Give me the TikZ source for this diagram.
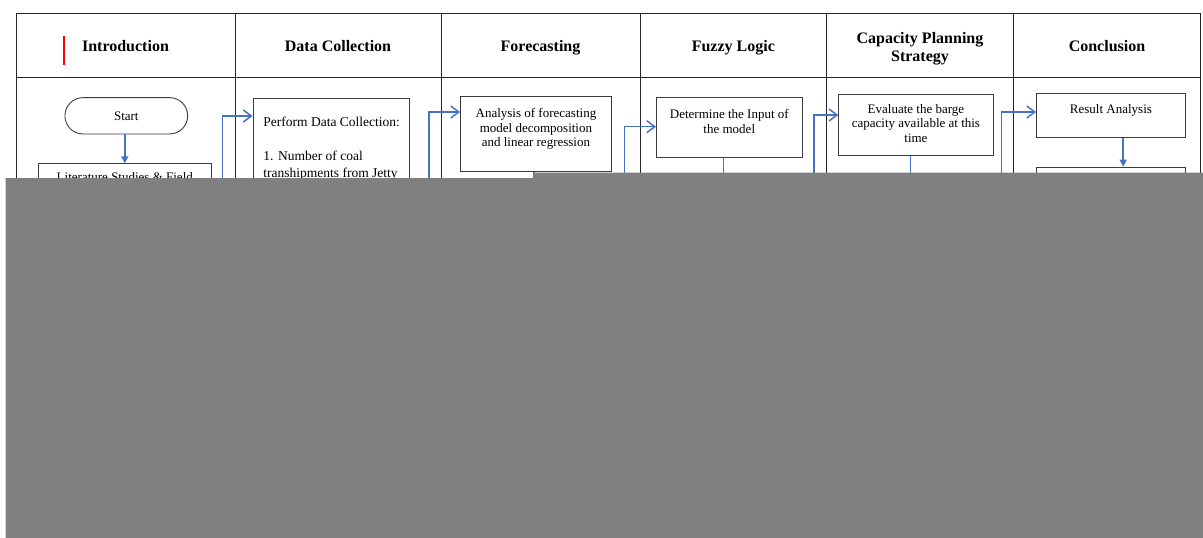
\documentclass[tikz,border=0pt]{standalone}
\usepackage{fontspec}
\setmainfont{Liberation Serif}
\usetikzlibrary{arrows.meta}

% fixed-height cell text, first line placed from the top
\newcommand{\celltext}[4]{\parbox[b][#1][t]{#2}{\centering\vspace*{#3}\strut#4}}
\newcommand{\celllist}[4]{\parbox[b][#1][t]{#2}{\raggedright\leftskip=10.5pt\vspace*{#3}\strut#4}}

\begin{document}
\begin{tikzpicture}[x=1pt,y=-1pt,
    every node/.style={font=\fontsize{13}{14.5}\selectfont},
    grid/.style={draw=black!85,line width=0.8pt},
    head/.style={font=\fontsize{16}{18.5}\selectfont\bfseries,align=center},
    box/.style={draw=edge,line width=0.9pt,fill=white,inner sep=0pt},
    link/.style={draw=flowblue,line width=1.5pt,-{Straight Barb[length=8pt,width=12pt]}},
    drop/.style={draw=flowblue,line width=1.5pt,-{Triangle[length=7pt,width=7pt]}},
    feed/.style={draw=flowblue,line width=1.5pt}]
            % Define colors
            \definecolor{flowblue}{RGB}{68,114,196}
            \definecolor{edge}{RGB}{60,60,60}
            \definecolor{covergray}{RGB}{128,128,128}

            \useasboundingbox (0,0) rectangle (1203,538);

            % Draw the table frame
            \draw[grid] (16,13) rectangle (1200.7,530);
            \draw[grid] (16,77) -- (1200.7,77);
            \foreach \x in {235,441,640,826.7,1013.3}
                \draw[grid] (\x,13) -- (\x,530);

            % Column headers
            \node[head,anchor=base] (hIntro) at (125.5,51.7) {Introduction};
            \node[head,anchor=base] (hData) at (338,51.7) {Data Collection};
            \node[head,anchor=base] (hForecast) at (540.5,51.7) {Forecasting};
            \node[head,anchor=base] (hFuzzy) at (733.3,51.7) {Fuzzy Logic};
            \node[head] (hCapacity) at (920,48.5) {Capacity Planning\\Strategy};
            \node[head,anchor=base] (hConclusion) at (1107,51.7) {Conclusion};
            \draw[red,line width=1.5pt] (64,36) -- (64,65);

            % Introduction
            \node[box,rounded corners=18pt,minimum width=122.7pt,minimum height=36.3pt] (start) at (126.3,115.8) {Start};
            \node[box,anchor=north west] (lit) at (37.7,163.3) {\celltext{60pt}{173.3pt}{8pt}{Literature Studies \& Field}};
            \draw[drop] (lit.north |- start.south) -- (lit.north);

            % Data collection
            \node[box,anchor=north west,font=\fontsize{13.5}{17}\selectfont] (data) at (252.5,97.7) {\celllist{200pt}{156pt}{16pt}{Perform Data Collection:\\[17pt]1. Number of coal\\transhipments from Jetty}};

            % Forecasting
            \node[box,anchor=north west] (forecast) at (460,96) {\celltext{75pt}{151pt}{11.2pt}{Analysis of forecasting\\model decomposition\\and linear regression}};

            % Fuzzy logic
            \node[box,anchor=north west] (fuzzy) at (656,97) {\celltext{60.3pt}{145.7pt}{11.2pt}{Determine the Input of\\the model}};

            % Capacity planning strategy
            \node[box,anchor=north west] (capacity) at (838.3,94.3) {\celltext{61pt}{154.4pt}{8.2pt}{Evaluate the barge\\capacity available at this\\time}};

            % Conclusion
            \node[box,anchor=north west] (result) at (1036,93.3) {\celltext{44pt}{149pt}{9.9pt}{Result Analysis}};
            \node[box,anchor=north west] (final) at (1036,166.7) {\celltext{60pt}{149pt}{8pt}{}};
            \draw[drop] ([xshift=12.2pt]result.south) -- ([xshift=12.2pt]final.north);

            % Links between the columns
            \coordinate (introOut) at (222.7,400);
            \coordinate (collectOut) at (429,400);
            \coordinate (forecastOut) at (624.3,400);
            \coordinate (fuzzyOut) at (814,400);
            \coordinate (capacityOut) at (1001.7,400);
            \draw[link] (introOut) |- ([yshift=-18.3pt]data.north west);
            \draw[link] (collectOut) |- ([yshift=-16pt]forecast.north west);
            \draw[link] (forecastOut) |- ([yshift=-29.7pt]fuzzy.north west);
            \draw[link] (fuzzyOut) |- ([yshift=-20.7pt]capacity.north west);
            \draw[link] (capacityOut) |- ([yshift=-18.7pt]result.north west);
            \draw[feed] ([xshift=-1.8pt]forecast.south) -- ([xshift=-1.8pt]forecast.south |- introOut);
            \draw[feed] ([xshift=-5.6pt]fuzzy.south) -- ([xshift=-5.6pt]fuzzy.south |- introOut);
            \draw[feed] ([xshift=-5.5pt]capacity.south) -- ([xshift=-5.5pt]capacity.south |- introOut);

            % Grey cover
            \fill[covergray] (5.5,178) -- (533,178) -- (533,172.5) -- (1203,172.5) -- (1203,538) -- (5.5,538) -- cycle;
        \end{tikzpicture}
\end{document}
